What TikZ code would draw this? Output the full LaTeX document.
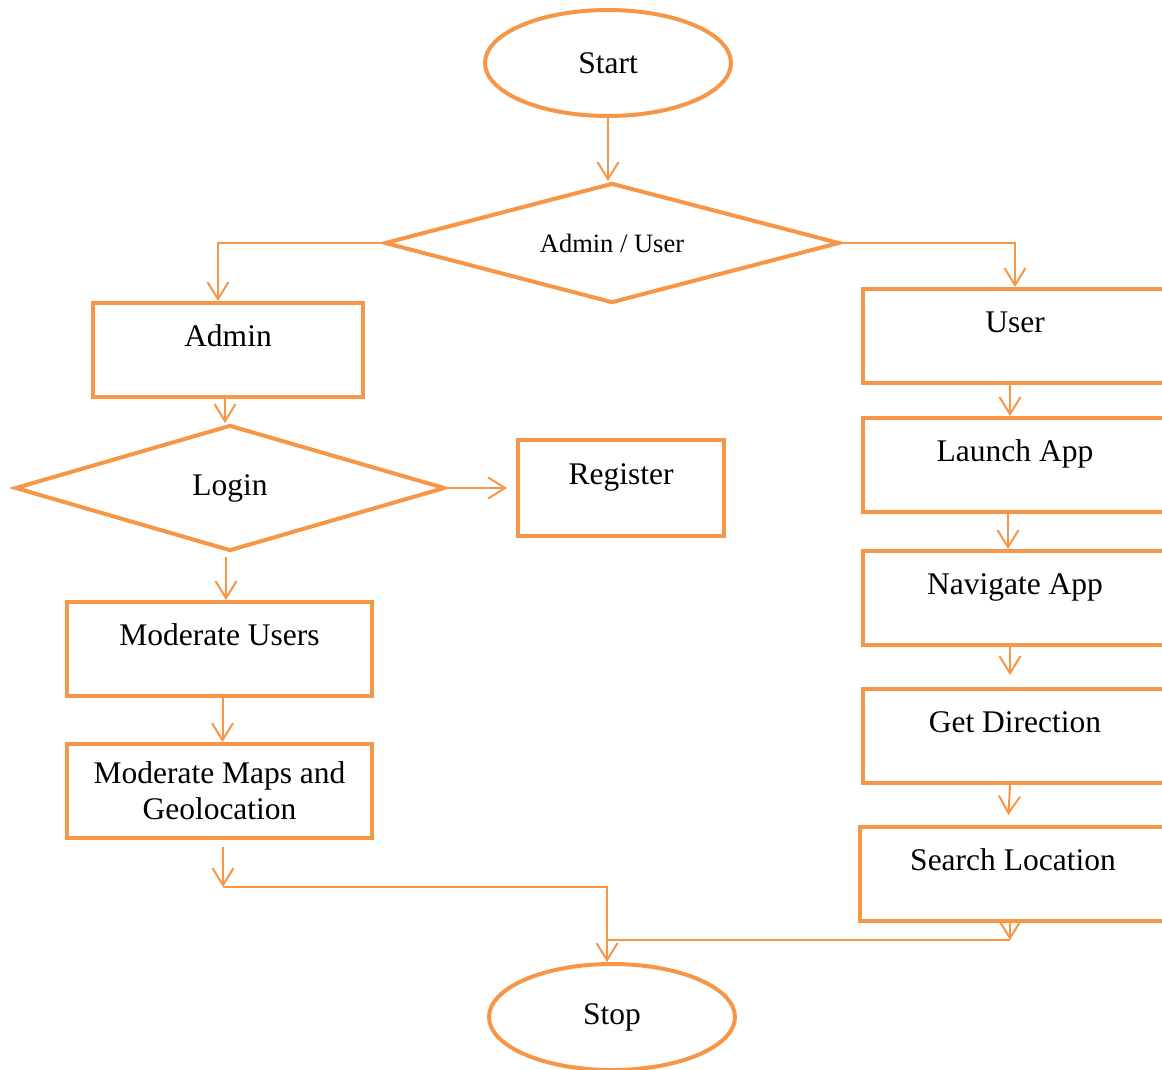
\documentclass[tikz,border=0pt]{standalone}
\usepackage{fontspec}
\setmainfont{Liberation Serif}
\usetikzlibrary{shapes.geometric,arrows.meta}
\definecolor{orng}{HTML}{F79646}
\tikzset{
  shp/.style={draw=orng, line width=4pt, fill=white, inner sep=0pt},
  boxnode/.style={shp, rectangle, minimum height=94pt, text height=22pt, text depth=30pt,
                  font=\fontsize{31.5}{38}\selectfont},
  boxtwo/.style={shp, rectangle, minimum height=94pt, align=center,
                  font=\fontsize{31.5}{36}\selectfont},
  ovalnode/.style={shp, ellipse, minimum width=246pt, minimum height=106pt,
                  font=\fontsize{31.5}{38}\selectfont},
  decnode/.style={shp, diamond, line join=miter},
  conn/.style={draw=orng, line width=2pt},
  arr/.style={-{Straight Barb[length=17pt,width=21pt]}}
}
\begin{document}
\begin{tikzpicture}[x=1pt,y=-1pt]
\clip (0,0) rectangle (1162,1069);
\fill[white] (0,0) rectangle (1162,1069);

% nodes
\node[ovalnode] (start) at (608,63) {Start};
\node[decnode, aspect=3.8, minimum width=455pt, minimum height=120pt,
      font=\fontsize{26.5}{32}\selectfont] (du) at (612,243) {Admin / User};
\node[boxnode, minimum width=270pt] (admin) at (228,350) {Admin};
\node[decnode, aspect=3.4, minimum width=430pt, minimum height=126pt,
      font=\fontsize{31.5}{38}\selectfont] (login) at (230,488) {Login};
\node[boxnode, minimum width=206pt, minimum height=96pt] (reg) at (621,488) {Register};
\node[boxnode, minimum width=305pt] (mu) at (219.5,649) {Moderate Users};
\node[boxtwo, minimum width=305pt] (mm) at (219.5,791) {Moderate Maps and\\Geolocation};

\node[boxnode, minimum width=304pt] (user) at (1015,336) {User};
\node[boxnode, minimum width=304pt] (launch) at (1015,465) {Launch App};
\node[boxnode, minimum width=304pt] (nav) at (1015,598) {Navigate App};
\node[boxnode, minimum width=304pt] (getdir) at (1015,736) {Get Direction};
\node[boxnode, minimum width=306pt] (search) at (1013,874) {Search Location};

\node[ovalnode] (stop) at (612,1017) {Stop};

\coordinate (j1) at (223,887);
\coordinate (j2) at (607,940);

% connectors
\draw[conn,arr] (start.south) -- (start.south |- du.north);
\draw[conn,arr] (du.west) -| ([xshift=-10pt]admin.north);
\draw[conn,arr] (du.east) -| (user.north);
\draw[conn,arr] ([xshift=-3pt]admin.south) -- ([xshift=-3pt]admin.south |- login.north);
\draw[conn,arr,shorten >=9pt] (login.east) -- (reg.west);
\draw[conn,arr,shorten <=4pt] ([xshift=-4pt]login.south) -- ([xshift=-4pt]login.south |- mu.north);
\draw[conn,arr] ([xshift=3pt]mu.south) -- ([xshift=3pt]mm.north);
\draw[conn,arr,shorten <=7pt] (mm.south -| j1) -- (j1);
\draw[conn,arr] (j1) -| ([xshift=-5pt]stop.north);

\draw[conn,arr] ([xshift=-5pt]user.south) -- ([xshift=-5pt]launch.north);
\draw[conn,arr] ([xshift=-7pt]launch.south) -- ([xshift=-7pt]nav.north);
\draw[conn,arr,shorten >=12pt] ([xshift=-5pt]nav.south) -- ([xshift=-5pt]getdir.north);
\draw[conn,arr,shorten >=10pt] ([xshift=-5pt]getdir.south) -- ([xshift=-5pt]search.north);
\draw[conn,arr] ([xshift=-3pt]search.south) -- ([xshift=-3pt]search.south |- j2);
\draw[conn] ([xshift=-3pt]search.south |- j2) -- (j2);
\end{tikzpicture}
\end{document}
